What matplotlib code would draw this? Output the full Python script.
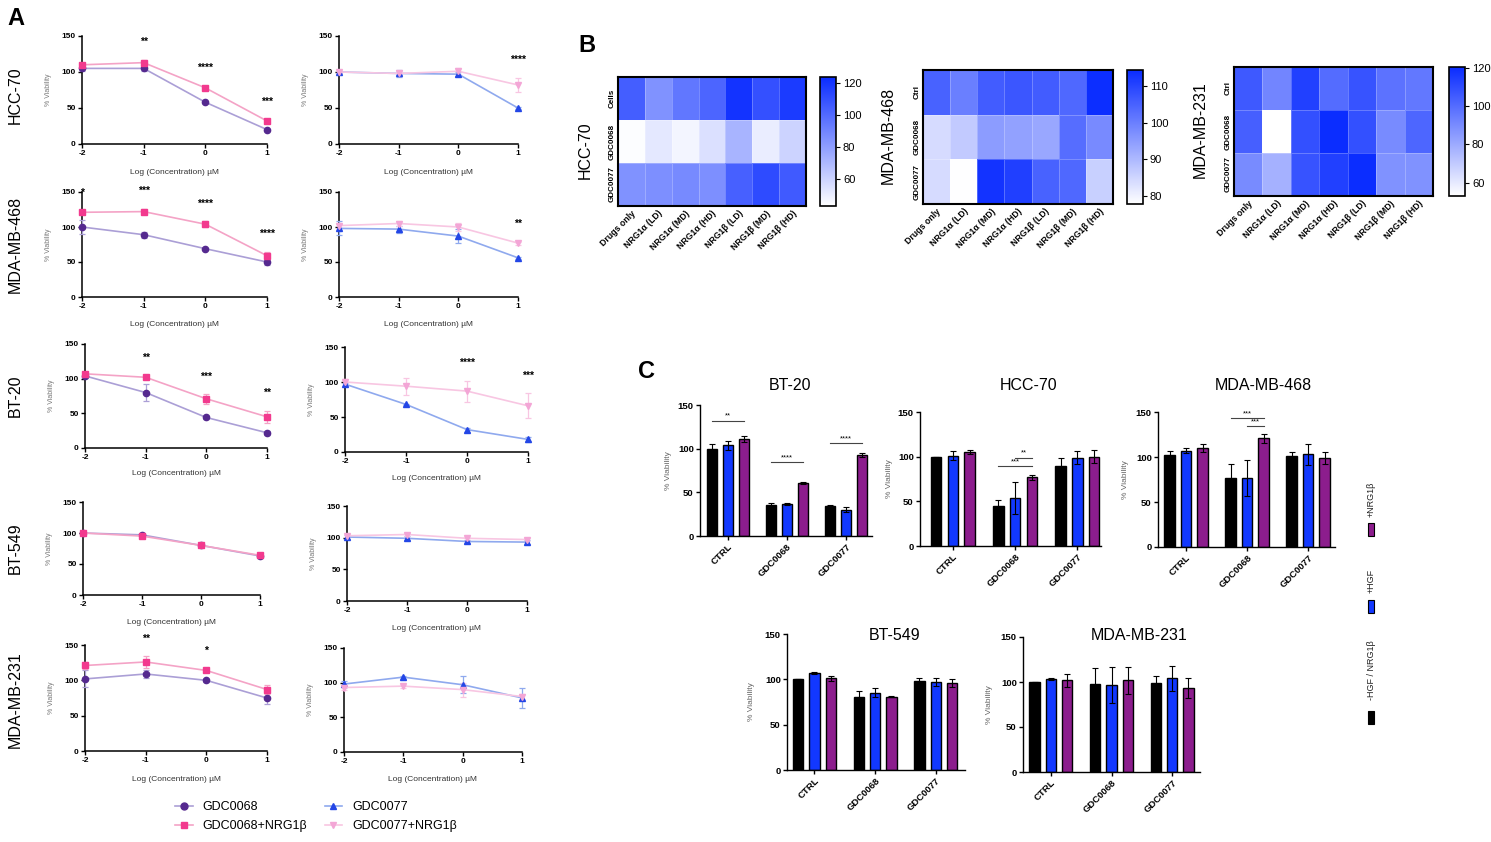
import numpy as np
import matplotlib
matplotlib.use('Agg')
import matplotlib.pyplot as plt
from matplotlib.colors import LinearSegmentedColormap
from matplotlib.lines import Line2D
from matplotlib.patches import Rectangle

plt.rcParams['font.family'] = ['Liberation Sans', 'DejaVu Sans']
plt.rcParams['axes.unicode_minus'] = False

W, H = 1491, 842

# ---------------- Panel A data ----------------
conc = [-2, -1, 0, 1]
conc_ticks = [-2, -1, 0, 1]
via_ticks = [0, 50, 100, 150]
cell_lines_A = ['HCC-70', 'MDA-MB-468', 'BT-20', 'BT-549', 'MDA-MB-231']

g68_mean = [[105, 105, 58, 20], [100, 89, 69, 50], [104, 80, 44, 22], [100, 97, 80, 63], [102, 109, 100, 75]]
g68_err = [[3, 4, 1, 1], [10, 4, 1, 4], [2, 12, 2, 3], [2, 2, 2, 2], [12, 5, 2, 8]]
g68n_mean = [[110, 113, 78, 32], [121, 122, 104, 59], [107, 102, 71, 45], [100, 95, 80, 64], [121, 126, 114, 87]]
g68n_err = [[3, 4, 3, 2], [3, 4, 4, 6], [2, 3, 7, 9], [2, 2, 2, 2], [5, 8, 2, 6]]
g77_mean = [[100, 98, 97, 50], [98, 97, 87, 56], [97, 68, 32, 18], [101, 99, 94, 93], [98, 108, 97, 78]]
g77_err = [[2, 5, 3, 1], [10, 5, 10, 1], [2, 1, 3, 4], [3, 3, 2, 3], [4, 2, 12, 15]]
g77n_mean = [[100, 98, 101, 82], [102, 105, 100, 77], [100, 94, 87, 66], [103, 105, 99, 97], [93, 95, 90, 80]]
g77n_err = [[2, 3, 4, 10], [3, 3, 6, 2], [5, 12, 15, 18], [2, 3, 2, 2], [4, 2, 10, 3]]

stars_left = [[(-1, '**'), (0, '****'), (1, '***')],
              [(-2, '*'), (-1, '***'), (0, '****'), (1, '****')],
              [(-1, '**'), (0, '***'), (1, '**')],
              [],
              [(-1, '**'), (0, '*')]]
stars_right = [[(1, '****')], [(1, '**')], [(0, '****'), (1, '***')], [], []]

series_labels = ['GDC0068', 'GDC0068+NRG1β', 'GDC0077', 'GDC0077+NRG1β']

# ---------------- Panel B data ----------------
heat_cols = ['Drugs only', 'NRG1α (LD)', 'NRG1α (MD)', 'NRG1α (HD)',
             'NRG1β (LD)', 'NRG1β (MD)', 'NRG1β (HD)']
heat_lines = ['HCC-70', 'MDA-MB-468', 'MDA-MB-231']
heat_rows = [['Cells', 'GDC0068', 'GDC0077'], ['Ctrl', 'GDC0068', 'GDC0077'], ['Ctrl', 'GDC0068', 'GDC0077']]
heat_hcc70 = [[105, 85, 95, 102, 121, 110, 118],
              [44, 52, 47, 55, 72, 50, 60],
              [85, 86, 88, 86, 104, 112, 106]]
heat_mda468 = [[105, 100, 106, 107, 106, 104, 114],
               [84, 87, 95, 94, 93, 103, 98],
               [84, 78, 113, 111, 105, 104, 86]]
heat_mda231 = [[106, 92, 114, 100, 108, 98, 96],
               [104, 53, 109, 120, 109, 90, 102],
               [90, 78, 108, 114, 120, 88, 88]]
heat_ranges = [(43, 124), (77.8, 114.4), (53, 120.5)]
heat_ticks = [[60, 80, 100, 120], [80, 90, 100, 110], [60, 80, 100, 120]]

# ---------------- Panel C data ----------------
bar_groups = ['CTRL', 'GDC0068', 'GDC0077']
bar_conditions = ['-HGF / NRG1β', '+HGF', '+NRG1β']
bar_lines = ['BT-20', 'HCC-70', 'MDA-MB-468', 'BT-549', 'MDA-MB-231']
bar_means = [[[100, 104, 111], [36, 37, 61], [34, 30, 93]],
             [[100, 101, 105], [45, 54, 77], [89, 99, 100]],
             [[102, 107, 110], [77, 77, 121], [101, 103, 99]],
             [[100, 107, 101], [81, 85, 81], [98, 97, 96]],
             [[100, 103, 102], [98, 97, 102], [99, 104, 93]]]
bar_errs = [[[5, 5, 3], [2, 1, 1], [1, 3, 2]],
            [[0, 5, 2], [6, 18, 3], [10, 7, 7]],
            [[5, 3, 4], [15, 20, 5], [5, 12, 7]],
            [[0, 1, 3], [6, 5, 0.5], [4, 4, 4]],
            [[0, 1, 7], [18, 20, 15], [8, 14, 11]]]
# (panel, group, condition from, condition to, level, label)
sig_brackets = [(0, 0, 0, 2, 132, '**'), (0, 1, 0, 2, 85, '****'), (0, 2, 0, 2, 106, '****'),
                (1, 1, 1, 2, 99, '**'), (1, 1, 0, 2, 89, '***'),
                (2, 1, 0, 2, 143, '***'), (2, 1, 1, 2, 134, '***')]

# ---------------- styles ----------------
mk_cols = ['#55298f', '#f23a8e', '#2346e6', '#f3a6d6']
ln_cols = ['#ab9fd6', '#f4a3c6', '#8fa9ee', '#f8c6e2']
markers = ['o', 's', '^', 'v']
cond_cols = ['#000000', '#1238ff', '#8c1d8d']
heat_cmap = LinearSegmentedColormap.from_list('wb', ['#ffffff', '#0a2cff'])

fig = plt.figure(figsize=(W / 100, H / 100), dpi=100)


def add_ax(x0, yt, x1, yb):
    return fig.add_axes([x0 / W, 1 - yb / H, (x1 - x0) / W, (yb - yt) / H])


def style_axes(ax, lab=6, lw=1.1):
    for s in ['top', 'right']:
        ax.spines[s].set_visible(False)
    for s in ['left', 'bottom']:
        ax.spines[s].set_linewidth(lw)
    ax.tick_params(direction='out', length=3, width=1, labelsize=lab, pad=1.5)
    for t in ax.get_xticklabels() + ax.get_yticklabels():
        t.set_fontweight('bold')


# ---------------- Panel A ----------------
posA = [[(82, 36, 267, 144), (339, 36, 518, 144)],
        [(82, 192, 267, 297), (339, 192, 518, 297)],
        [(85, 344, 267, 448), (345, 347, 528, 452)],
        [(83, 502, 260, 595), (347, 506, 527, 601)],
        [(85, 645, 267, 751), (344, 648, 522, 752)]]
xlab_y = [(169, 169), (321, 321), (470, 475), (619, 625), (776, 776)]
rowlab_y = [95, 244, 396, 548, 700]

for r in range(5):
    pairs = [((g68_mean[r], g68_err[r], 0), (g68n_mean[r], g68n_err[r], 1)),
             ((g77_mean[r], g77_err[r], 2), (g77n_mean[r], g77n_err[r], 3))]
    star_sets = [stars_left[r], stars_right[r]]
    for c in range(2):
        x0, yt, x1, yb = posA[r][c]
        ax = add_ax(x0, yt, x1, yb)
        for mean, err, k in pairs[c]:
            ax.errorbar(conc, mean, yerr=err, color=ln_cols[k], lw=1.2,
                        marker=markers[k], mfc=mk_cols[k], mec=mk_cols[k], ms=4.5,
                        ecolor=ln_cols[k], elinewidth=0.9, capsize=2, capthick=0.9,
                        clip_on=False, zorder=3)
        tops = np.maximum(np.array(pairs[c][0][0]) + np.array(pairs[c][0][1]),
                          np.array(pairs[c][1][0]) + np.array(pairs[c][1][1]))
        for xs, lbl in star_sets[c]:
            ax.text(xs, tops[conc.index(xs)] + 18, lbl, ha='center', va='bottom',
                    fontsize=7.5, fontweight='bold')
        ax.set_xlim(-2, 1)
        ax.set_ylim(0, 150)
        ax.set_xticks(conc_ticks)
        ax.set_yticks(via_ticks)
        style_axes(ax)
        ax.set_xlabel('Log (Concentration) µM', fontsize=6, color='#333333')
        ax.xaxis.set_label_coords(0.5, -(xlab_y[r][c] - yb) / (yb - yt))
        ax.set_ylabel('% Viability', fontsize=5, color='#777777')
        ax.yaxis.set_label_coords(-30 / (x1 - x0), 0.5)
    fig.text(15 / W, 1 - rowlab_y[r] / H, cell_lines_A[r], rotation=90,
             ha='center', va='center', fontsize=11.5)

handles = [Line2D([0], [0], color=ln_cols[k], lw=1.2, marker=markers[k],
                  mfc=mk_cols[k], mec=mk_cols[k], ms=5) for k in range(4)]
fig.legend(handles, series_labels, loc='upper left', bbox_to_anchor=(175 / W, 1 - 801 / H),
           ncol=2, frameon=False, fontsize=9, handlelength=1.4, handletextpad=0.8,
           columnspacing=1.4, labelspacing=0.55, borderpad=0, borderaxespad=0)

# ---------------- Panel B ----------------
posB = [(618, 77, 806, 206), (923, 70, 1113, 204), (1234, 67, 1433, 196)]
cbB = [(820, 77, 836, 206), (1127, 70, 1143, 204), (1449, 67, 1465, 196)]
heat_lab = [(585, 150), (888, 135), (1200, 130)]
heat_datas = [heat_hcc70, heat_mda468, heat_mda231]
for i in range(3):
    ax = add_ax(*posB[i])
    data = np.array(heat_datas[i], dtype=float)
    vmin, vmax = heat_ranges[i]
    m = ax.pcolormesh(np.arange(8), np.arange(4), data, cmap=heat_cmap, vmin=vmin, vmax=vmax,
                      edgecolors=(1, 1, 1, 0.25), linewidth=0.4)
    ax.set_ylim(3, 0)
    ax.set_xlim(0, 7)
    ax.set_xticks(np.arange(7) + 0.5)
    ax.set_xticklabels(heat_cols, rotation=45, ha='right', rotation_mode='anchor',
                       fontsize=6.3, fontweight='bold')
    ax.set_yticks(np.arange(3) + 0.5)
    ax.set_yticklabels(heat_rows[i], rotation=90, va='center', fontsize=5.8, fontweight='bold')
    ax.tick_params(length=0, pad=2)
    for s in ax.spines.values():
        s.set_linewidth(1.5)
    cax = add_ax(*cbB[i])
    cb = fig.colorbar(m, cax=cax, ticks=heat_ticks[i])
    cb.outline.set_linewidth(1.2)
    cax.tick_params(labelsize=8, length=3, width=0.8, pad=2)
    fig.text(heat_lab[i][0] / W, 1 - heat_lab[i][1] / H, heat_lines[i], rotation=90,
             ha='center', va='center', fontsize=11.5)

# ---------------- Panel C ----------------
posC = [(700, 405, 872, 536), (920, 412, 1101, 546), (1158, 412, 1335, 547),
        (787, 634, 965, 770), (1023, 637, 1200, 772)]
xlimC = [(-0.475, 2.44), (-0.53, 2.38), (-0.46, 2.44), (-0.45, 2.48), (-0.46, 2.46)]
titleC = [(790, 385), (1029, 385), (1263, 386), (895, 636), (1139, 636)]
ylabC = [672, 893, 1129, 755, 993]
offs = np.array([-0.27, 0.0, 0.27])
bw = 0.17
axesC = []
for p in range(5):
    x0, yt, x1, yb = posC[p]
    ax = add_ax(x0, yt, x1, yb)
    axesC.append(ax)
    xg = np.arange(len(bar_groups))
    for ci in range(3):
        vals = [bar_means[p][g][ci] for g in range(3)]
        errs = [bar_errs[p][g][ci] for g in range(3)]
        ax.bar(xg + offs[ci], vals, bw, color=cond_cols[ci], edgecolor='black', linewidth=1.0,
               yerr=errs, error_kw=dict(ecolor='black', elinewidth=0.8, capsize=2, capthick=0.8),
               zorder=2)
    ax.set_xlim(*xlimC[p])
    ax.set_ylim(0, 150)
    ax.set_yticks(via_ticks)
    ax.set_xticks(xg)
    ax.set_xticklabels(bar_groups, rotation=45, ha='right', rotation_mode='anchor')
    style_axes(ax, lab=6.8, lw=1.0)
    ax.set_ylabel('% Viability', fontsize=6, color='#666666')
    ax.yaxis.set_label_coords(-(x0 - ylabC[p]) / (x1 - x0), 0.5)
    fig.text(titleC[p][0] / W, 1 - titleC[p][1] / H, bar_lines[p], ha='center', va='center',
             fontsize=11.5)

for p, g, c1, c2, lvl, lbl in sig_brackets:
    ax = axesC[p]
    xa, xb = g + offs[c1], g + offs[c2]
    ax.plot([xa, xb], [lvl, lvl], color='#444444', lw=0.8, clip_on=False)
    ax.text((xa + xb) / 2, lvl + 1, lbl, ha='center', va='bottom', fontsize=5.5, clip_on=False)

# legend for panel C (vertical, rotated)
leg_items = [(2, 523, 517), (1, 600, 593), (0, 711, 700)]
for ci, ytop, ytext in leg_items:
    fig.add_artist(Rectangle((1368 / W, 1 - (ytop + 13) / H), 6 / W, 13 / H,
                             transform=fig.transFigure, facecolor=cond_cols[ci],
                             edgecolor='black', linewidth=0.8))
    fig.text(1371 / W, 1 - ytext / H, bar_conditions[ci], rotation=90, ha='center',
             va='bottom', fontsize=6.5, color='#222222')

# panel letters
fig.text(7 / W, 1 - 25 / H, 'A', fontsize=17, fontweight='bold', va='baseline')
fig.text(578 / W, 1 - 52 / H, 'B', fontsize=17, fontweight='bold', va='baseline')
fig.text(638 / W, 1 - 378 / H, 'C', fontsize=17, fontweight='bold', va='baseline')

fig.savefig('out.png', dpi=100)
